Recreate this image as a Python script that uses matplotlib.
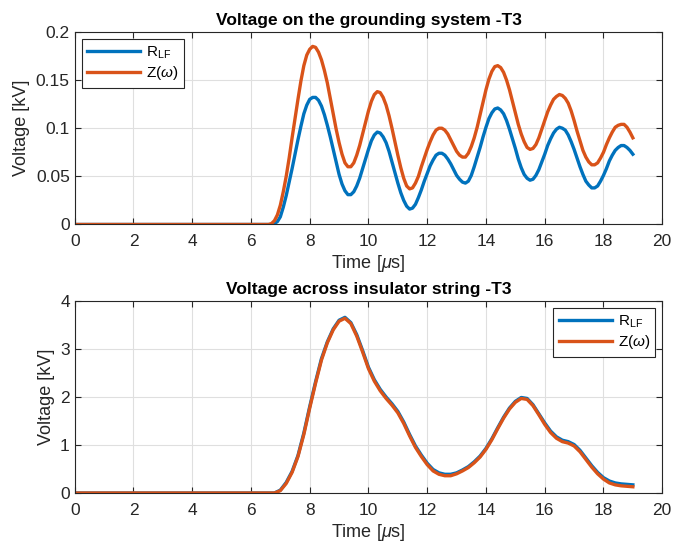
import matplotlib.pyplot as plt
import numpy as np

plt.rcParams['font.family'] = ['Liberation Sans', 'DejaVu Sans']
plt.rcParams['mathtext.fontset'] = 'custom'
plt.rcParams['mathtext.it'] = 'Liberation Sans:italic'
plt.rcParams['mathtext.rm'] = 'Liberation Sans'

# grounding system: time grid 6.6..19.0 us every 0.1 us, plus zero at t=0
t_gnd = np.concatenate([[0.0], np.arange(66, 191) / 10.0])

# grounding system voltage [kV]
gnd_rlf = [0.0,
           0.0, 0.0, 0.001, 0.003, 0.008, 0.018, 0.030, 0.044, 0.058, 0.073,
           0.088, 0.102, 0.115, 0.124, 0.130, 0.132, 0.132, 0.129, 0.123, 0.114,
           0.103, 0.091, 0.078, 0.065, 0.052, 0.042, 0.035, 0.031, 0.031, 0.034,
           0.040, 0.048, 0.058, 0.068, 0.078, 0.087, 0.093, 0.096, 0.095, 0.091,
           0.085, 0.076, 0.065, 0.054, 0.043, 0.033, 0.025, 0.019, 0.016, 0.017,
           0.021, 0.028, 0.036, 0.045, 0.053, 0.061, 0.067, 0.072, 0.074, 0.074,
           0.072, 0.068, 0.063, 0.057, 0.051, 0.047, 0.044, 0.043, 0.045, 0.051,
           0.060, 0.070, 0.080, 0.091, 0.101, 0.110, 0.116, 0.120, 0.121, 0.119,
           0.115, 0.108, 0.099, 0.089, 0.079, 0.068, 0.059, 0.052, 0.048, 0.046,
           0.047, 0.051, 0.057, 0.065, 0.073, 0.082, 0.089, 0.095, 0.099, 0.101,
           0.100, 0.098, 0.093, 0.086, 0.078, 0.069, 0.060, 0.052, 0.045, 0.041,
           0.038, 0.038, 0.040, 0.045, 0.051, 0.058, 0.066, 0.072, 0.077, 0.080,
           0.082, 0.082, 0.080, 0.077, 0.073]
gnd_zw = [0.0,
          0.0, 0.001, 0.004, 0.010, 0.020, 0.034, 0.050, 0.069, 0.090, 0.110,
          0.130, 0.149, 0.165, 0.176, 0.182, 0.185, 0.184, 0.179, 0.171, 0.160,
          0.147, 0.131, 0.115, 0.099, 0.085, 0.073, 0.064, 0.060, 0.060, 0.064,
          0.072, 0.082, 0.094, 0.106, 0.118, 0.128, 0.135, 0.138, 0.137, 0.132,
          0.124, 0.113, 0.100, 0.086, 0.072, 0.059, 0.048, 0.040, 0.037, 0.038,
          0.043, 0.050, 0.060, 0.069, 0.078, 0.086, 0.093, 0.098, 0.100, 0.100,
          0.098, 0.094, 0.088, 0.082, 0.076, 0.072, 0.070, 0.070, 0.074, 0.081,
          0.090, 0.101, 0.114, 0.127, 0.140, 0.151, 0.159, 0.164, 0.165, 0.163,
          0.158, 0.150, 0.140, 0.128, 0.116, 0.104, 0.094, 0.086, 0.080, 0.078,
          0.079, 0.083, 0.090, 0.099, 0.108, 0.117, 0.124, 0.130, 0.133, 0.135,
          0.134, 0.131, 0.126, 0.118, 0.108, 0.097, 0.087, 0.077, 0.070, 0.065,
          0.062, 0.062, 0.064, 0.069, 0.075, 0.083, 0.090, 0.096, 0.101, 0.103,
          0.104, 0.104, 0.101, 0.096, 0.090]

# insulator string: time grid 6.6..19.0 us every 0.2 us, plus zero at t=0
t_ins = np.concatenate([[0.0], np.arange(33, 96) / 5.0])

# insulator string voltage [kV]
ins_rlf = [0.0, 0.0, 0.0, 0.06, 0.22, 0.45, 0.78, 1.25, 1.80, 2.32, 2.80, 3.15,
           3.42, 3.60, 3.66, 3.55, 3.30, 2.97, 2.62, 2.36, 2.16, 2.00, 1.86, 1.70,
           1.48, 1.22, 0.98, 0.79, 0.62, 0.49, 0.42, 0.39, 0.39, 0.42, 0.48, 0.55,
           0.65, 0.77, 0.93, 1.13, 1.36, 1.58, 1.77, 1.91, 1.99, 1.97, 1.84, 1.65,
           1.46, 1.29, 1.17, 1.10, 1.07, 1.01, 0.89, 0.73, 0.57, 0.43, 0.32, 0.25,
           0.21, 0.19, 0.18, 0.17]
ins_zw = [0.0, 0.0, 0.0, 0.05, 0.20, 0.43, 0.76, 1.22, 1.77, 2.29, 2.77, 3.13,
          3.40, 3.58, 3.64, 3.53, 3.27, 2.94, 2.59, 2.33, 2.13, 1.97, 1.83, 1.67,
          1.45, 1.19, 0.95, 0.76, 0.59, 0.46, 0.39, 0.36, 0.36, 0.40, 0.46, 0.53,
          0.63, 0.75, 0.91, 1.11, 1.34, 1.56, 1.75, 1.89, 1.97, 1.95, 1.82, 1.63,
          1.43, 1.26, 1.14, 1.07, 1.04, 0.98, 0.86, 0.70, 0.54, 0.40, 0.29, 0.21,
          0.17, 0.15, 0.14, 0.13]

blue = '#0072BD'
orange = '#D95319'
axcol = '#262626'

fig = plt.figure(figsize=(6.73, 5.47), dpi=100)
ax1 = fig.add_axes([0.111, 0.5896, 0.873, 0.352])
ax2 = fig.add_axes([0.111, 0.0987, 0.873, 0.351])


def style(ax, ylim, yticks, yticklabels, title, loc):
    ax.set_xlim(0, 20)
    ax.set_ylim(*ylim)
    ax.set_xticks(np.arange(0, 21, 2))
    ax.set_yticks(yticks)
    ax.set_yticklabels(yticklabels)
    ax.grid(True, color='#dfdfdf', linewidth=0.8)
    ax.set_axisbelow(True)
    ax.tick_params(direction='in', length=4, width=0.8, colors=axcol,
                   labelsize=12.5, top=True, right=True)
    ax.tick_params(axis='x', pad=7)
    for s in ax.spines.values():
        s.set_color(axcol)
        s.set_linewidth(0.8)
    ax.set_xlabel(r'Time [$\mu$s]', fontsize=13, color=axcol, labelpad=3)
    ax.set_ylabel('Voltage [kV]', fontsize=13, color=axcol, labelpad=4)
    ax.set_title(title, fontsize=12.5, fontweight='bold', pad=5)
    leg = ax.legend(loc=loc, fontsize=11, handlelength=3.5, fancybox=False,
                    framealpha=1, edgecolor=axcol, borderaxespad=0.45,
                    handletextpad=0.35, labelspacing=0.25, borderpad=0.35)
    leg.get_frame().set_linewidth(0.8)


ax1.plot(t_gnd, gnd_rlf, color=blue, lw=2.4, label=r'R$_{\mathrm{LF}}$')
ax1.plot(t_gnd, gnd_zw, color=orange, lw=2.4, label=r'Z($\omega$)')
style(ax1, (0, 0.2), [0, 0.05, 0.1, 0.15, 0.2], ['0', '0.05', '0.1', '0.15', '0.2'],
      'Voltage on the grounding system -T3', 'upper left')

ax2.plot(t_ins, ins_rlf, color=blue, lw=2.4, label=r'R$_{\mathrm{LF}}$')
ax2.plot(t_ins, ins_zw, color=orange, lw=2.4, label=r'Z($\omega$)')
style(ax2, (0, 4), [0, 1, 2, 3, 4], ['0', '1', '2', '3', '4'],
      'Voltage across insulator string -T3', 'upper right')

fig.savefig('out.png', dpi=100)
